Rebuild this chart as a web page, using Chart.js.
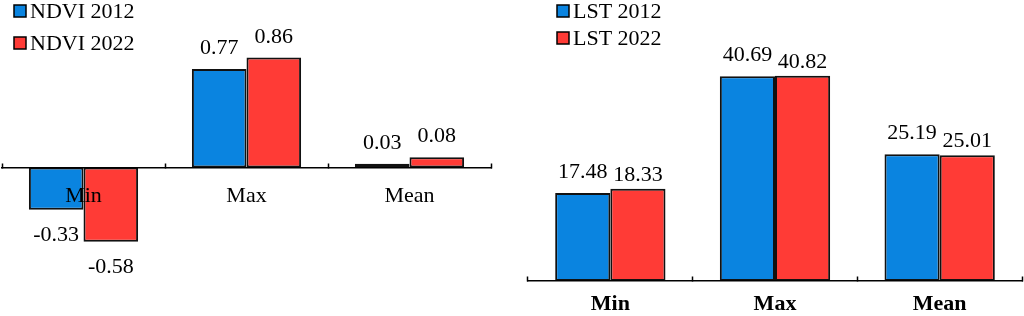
<!DOCTYPE html>
<html lang="en">
<head>
  <meta charset="UTF-8">
  <title>NDVI and LST 2012 / 2022</title>
  <style>
    html, body {
      margin: 0;
      padding: 0;
      background: #ffffff;
    }
    .wrap {
      position: relative;
      width: 1024px;
      height: 316px;
      overflow: hidden;
    }
    #ndviChart {
      position: absolute;
      left: 0;
      top: 0;
    }
    #lstChart {
      position: absolute;
      left: 512px;
      top: 0;
    }
  </style>
</head>
<body>
  <div class="wrap">
    <canvas id="ndviChart" width="512" height="316"></canvas>
    <canvas id="lstChart" width="512" height="316"></canvas>
  </div>

  <script src="https://cdn.jsdelivr.net/npm/chart.js"></script>
  <script>
    // data
    const categories = ['Min', 'Max', 'Mean'];
    const ndvi2012 = [-0.33, 0.77, 0.03];
    const ndvi2022 = [-0.58, 0.86, 0.08];
    const lst2012 = [17.48, 40.69, 25.19];
    const lst2022 = [18.33, 40.82, 25.01];
    const seriesNames = {
      ndvi: ['NDVI 2012', 'NDVI 2022'],
      lst: ['LST 2012', 'LST 2022']
    };

    const BLUE = '#0a84e0';
    const RED = '#ff3b36';
    const FONT = '"Liberation Serif", "Times New Roman", serif';

    // values written over / under each bar
    const barValues = {
      id: 'barValues',
      afterDraw(chart) {
        const opts = chart.options.plugins.barValues || {};
        const ctx = chart.ctx;
        ctx.save();
        ctx.font = '22px ' + FONT;
        ctx.fillStyle = '#000';
        ctx.textAlign = 'center';
        ctx.textBaseline = 'alphabetic';
        chart.data.datasets.forEach(function(ds, i) {
          const meta = chart.getDatasetMeta(i);
          const up = opts.above ? opts.above[i] : 15;
          meta.data.forEach(function(bar, j) {
            const v = ds.data[j];
            const y = v < 0 ? bar.y + opts.below : bar.y - up;
            ctx.fillText(v.toFixed(2), bar.x, y);
          });
        });
        ctx.restore();
      }
    };

    // small stacked legend in the top left corner
    const rowLegend = {
      id: 'rowLegend',
      afterDraw(chart) {
        const o = chart.options.plugins.rowLegend;
        if (!o) return;
        const ctx = chart.ctx;
        ctx.save();
        ctx.font = '22px ' + FONT;
        ctx.textAlign = 'left';
        ctx.textBaseline = 'alphabetic';
        chart.data.datasets.forEach(function(ds, i) {
          const base = o.y + i * o.gap;
          ctx.fillStyle = ds.backgroundColor;
          ctx.fillRect(o.x, base - 13, 12, 12);
          ctx.strokeStyle = '#000';
          ctx.lineWidth = 1.5;
          ctx.strokeRect(o.x, base - 13, 12, 12);
          ctx.fillStyle = '#000';
          ctx.fillText(ds.label, o.x + 16, base);
        });
        ctx.restore();
      }
    };

    function makeDatasets(names, a, b) {
      return [a, b].map(function(values, i) {
        return {
          label: names[i],
          data: values,
          backgroundColor: i === 0 ? BLUE : RED,
          borderColor: '#111',
          borderWidth: 2,
          borderSkipped: false,
          categoryPercentage: 0.67,
          barPercentage: 1.0
        };
      });
    }

    function xAxis(bold, labelPad) {
      return {
        type: 'category',
        position: { y: 0 },
        offset: true,
        grid: {
          offset: true,
          drawOnChartArea: false,
          tickLength: -5,
          tickWidth: 1.5,
          tickColor: '#000',
          z: 1
        },
        border: { display: true, color: '#000', width: 1.5, z: 1 },
        ticks: {
          z: 1,
          color: '#000',
          padding: labelPad,
          font: { family: FONT, size: 22, weight: bold ? 'bold' : 'normal' }
        }
      };
    }

    // NDVI chart (left)
    new Chart(document.getElementById('ndviChart'), {
      type: 'bar',
      data: {
        labels: categories,
        datasets: makeDatasets(seriesNames.ndvi, ndvi2012, ndvi2022)
      },
      options: {
        responsive: false,
        animation: false,
        layout: { padding: { left: 2, right: 21, top: 0, bottom: 0 } },
        scales: {
          x: xAxis(false, 20),
          y: { display: false, min: -1.16, max: 1.31 }
        },
        plugins: {
          legend: { display: false },
          tooltip: { enabled: false },
          barValues: { above: [15, 15], below: 31 },
          rowLegend: { x: 14, y: 18, gap: 32 }
        }
      },
      plugins: [barValues, rowLegend]
    });

    // LST chart (right)
    new Chart(document.getElementById('lstChart'), {
      type: 'bar',
      data: {
        labels: categories,
        datasets: makeDatasets(seriesNames.lst, lst2012, lst2022)
      },
      options: {
        responsive: false,
        animation: false,
        layout: { padding: { left: 16, right: 2, top: 0, bottom: 35 } },
        scales: {
          x: xAxis(true, 15),
          y: { display: false, min: 0, max: 55.86 }
        },
        plugins: {
          legend: { display: false },
          tooltip: { enabled: false },
          barValues: { above: [15, 8], below: 31 },
          rowLegend: { x: 45, y: 18, gap: 27 }
        }
      },
      plugins: [barValues, rowLegend]
    });
  </script>
</body>
</html>
